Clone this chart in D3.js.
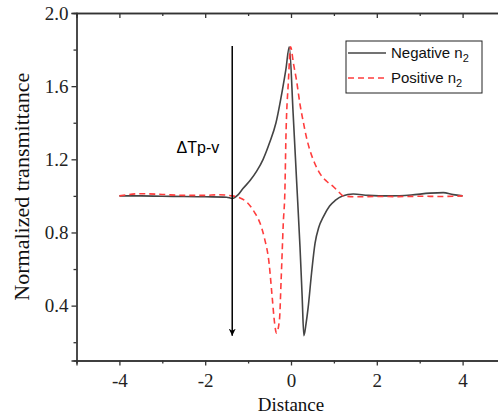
<!DOCTYPE html>
<html>
<head>
<meta charset="utf-8">
<script src="https://cdn.jsdelivr.net/npm/d3@7"></script>
<style>
  body { margin: 0; background: #fff; }
  svg { display: block; }
</style>
</head>
<body>
<div id="chart"></div>
<script>
// data
var negX = [-4.0, -3.5, -3.0, -2.5, -2.0, -1.5, -1.37, -1.23, -1.12, -0.95, -0.80, -0.65, -0.50, -0.35, -0.20, -0.12, -0.04,
  0.05, 0.13, 0.21, 0.26, 0.30, 0.35, 0.40, 0.48, 0.56, 0.65, 0.75, 0.90, 1.03, 1.20, 1.45, 1.8, 2.3, 2.8, 3.24, 3.55, 3.78, 4.0];
var negY = [1.0, 1.0, 0.998, 0.997, 0.995, 0.993, 0.986, 1.007, 1.04, 1.085, 1.135, 1.20, 1.29, 1.40, 1.58, 1.69, 1.815,
  1.45, 1.085, 0.72, 0.45, 0.236, 0.30, 0.39, 0.58, 0.74, 0.83, 0.884, 0.945, 0.975, 1.0, 1.01, 1.003, 1.0, 1.005, 1.015, 1.018, 1.007, 1.0];

var posX = [-4.0, -3.5, -3.0, -2.5, -2.0, -1.7, -1.37, -1.2, -1.03, -0.85, -0.72, -0.62, -0.51, -0.44, -0.38, -0.34,
  -0.27, -0.23, -0.18, -0.14, -0.12, -0.06, -0.01, 0.06, 0.13, 0.21, 0.29, 0.36, 0.44, 0.55, 0.68, 0.83, 0.99, 1.1, 1.22,
  1.5, 2.0, 2.5, 3.0, 3.5, 4.0];
var posY = [1.0, 1.012, 1.008, 1.003, 1.003, 1.006, 1.0, 0.99, 0.966, 0.91, 0.85, 0.77, 0.63, 0.45, 0.30, 0.25,
  0.32, 0.54, 0.85, 1.05, 1.30, 1.63, 1.815, 1.72, 1.63, 1.50, 1.40, 1.32, 1.25, 1.18, 1.12, 1.08, 1.05, 1.025, 1.0,
  0.995, 0.997, 0.996, 0.998, 0.997, 1.0];

var xMajor = [-4, -2, 0, 2, 4];
var xMinor = [-5, -3, -1, 1, 3, 5];
var yMajor = [0.4, 0.8, 1.2, 1.6, 2.0];
var yMinor = [0.2, 0.6, 1.0, 1.4, 1.8];

var seriesNames = ["Negative n", "Positive n"];
var arrowX = -1.37, arrowTop = 1.82, arrowBottom = 0.236;
var noteText = "\u0394Tp-v";

var svgWidth = 498;
var svgHeight = 418;

var svg = d3.select("#chart")
  .append("svg")
  .attr("width", svgWidth)
  .attr("height", svgHeight);

var xScale = d3.scaleLinear().domain([-5, 5]).range([76.5, 505.5]);
var yScale = d3.scaleLinear().domain([0.1, 2.0]).range([360.5, 13]);

var axisColor = "#333";

// curves
var line = d3.line()
  .x(d => xScale(d[0]))
  .y(d => yScale(d[1]))
  .curve(d3.curveMonotoneX);

svg.append("path")
  .datum(negX.map((v, i) => [v, negY[i]]))
  .attr("d", line)
  .attr("fill", "none")
  .attr("stroke", "#444")
  .attr("stroke-width", 1.6);

svg.append("path")
  .datum(posX.map((v, i) => [v, posY[i]]))
  .attr("d", line)
  .attr("fill", "none")
  .attr("stroke", "#ff3d3d")
  .attr("stroke-width", 1.6)
  .attr("stroke-dasharray", "6,4");

// arrow
svg.append("defs").append("marker")
  .attr("id", "head")
  .attr("viewBox", "0 0 10 10")
  .attr("refX", 10).attr("refY", 5)
  .attr("markerWidth", 7).attr("markerHeight", 7)
  .attr("markerUnits", "userSpaceOnUse")
  .attr("orient", "auto")
  .append("path")
  .attr("d", "M0,0 L10,5 L0,10 L3,5 Z")
  .attr("fill", "#000");

svg.append("line")
  .attr("x1", xScale(arrowX)).attr("x2", xScale(arrowX))
  .attr("y1", yScale(arrowTop)).attr("y2", yScale(arrowBottom))
  .attr("stroke", "#000")
  .attr("stroke-width", 1.5)
  .attr("marker-end", "url(#head)");

svg.append("text")
  .attr("x", xScale(arrowX) - 13)
  .attr("y", yScale(1.235))
  .attr("text-anchor", "end")
  .attr("font-family", "Liberation Sans, Arial, sans-serif")
  .attr("font-size", "16px")
  .text(noteText);

// axes
var serif = "Liberation Serif, Times New Roman, serif";

var xAxis = svg.append("g")
  .attr("transform", `translate(0, ${yScale(0.1)})`)
  .call(d3.axisBottom(xScale).tickValues(xMajor).tickSize(5).tickFormat(d => String(d)));
svg.append("g")
  .attr("transform", `translate(0, ${yScale(0.1)})`)
  .call(d3.axisBottom(xScale).tickValues(xMinor).tickSize(3).tickFormat(""));

var yAxis = svg.append("g")
  .attr("transform", `translate(${xScale(-5)}, 0)`)
  .call(d3.axisLeft(yScale).tickValues(yMajor).tickSize(5).tickFormat(d3.format(".1f")));
svg.append("g")
  .attr("transform", `translate(${xScale(-5)}, 0)`)
  .call(d3.axisLeft(yScale).tickValues(yMinor).tickSize(3).tickFormat(""));

// top frame with inward ticks
svg.append("g")
  .attr("transform", `translate(0, ${yScale(2.0)})`)
  .call(d3.axisTop(xScale).tickValues(xMajor).tickSize(-5).tickFormat(""));
svg.append("g")
  .attr("transform", `translate(0, ${yScale(2.0)})`)
  .call(d3.axisTop(xScale).tickValues(xMinor).tickSize(-3).tickFormat(""));

svg.selectAll(".domain, .tick line")
  .attr("stroke", axisColor)
  .attr("stroke-width", 1.3);

svg.selectAll(".tick text")
  .attr("font-family", serif)
  .attr("font-size", "19px")
  .attr("fill", "#222");

xAxis.selectAll(".tick text").attr("dy", "0.95em");

// axis titles
svg.append("text")
  .attr("x", xScale(0))
  .attr("y", 411)
  .attr("text-anchor", "middle")
  .attr("font-family", serif)
  .attr("font-size", "19px")
  .attr("fill", "#111")
  .text("Distance");

svg.append("text")
  .attr("transform", `translate(29, ${yScale(1.05)}) rotate(-90)`)
  .attr("text-anchor", "middle")
  .attr("font-family", serif)
  .attr("font-size", "22px")
  .attr("fill", "#111")
  .text("Normalized transmittance");

// legend
var legend = svg.append("g");
legend.append("rect")
  .attr("x", 346).attr("y", 41)
  .attr("width", 136).attr("height", 52)
  .attr("fill", "#fff")
  .attr("stroke", "#222")
  .attr("stroke-width", 1);

var legendStyles = [
  { color: "#444", dash: null },
  { color: "#ff3d3d", dash: "6,4" }
];

seriesNames.forEach(function(name, i) {
  var yy = 53 + i * 25;
  legend.append("line")
    .attr("x1", 348).attr("x2", 386)
    .attr("y1", yy).attr("y2", yy)
    .attr("stroke", legendStyles[i].color)
    .attr("stroke-width", 1.6)
    .attr("stroke-dasharray", legendStyles[i].dash);
  var t = legend.append("text")
    .attr("x", 391)
    .attr("y", yy + 5)
    .attr("font-family", "Liberation Sans, Arial, sans-serif")
    .attr("font-size", "15px")
    .attr("fill", "#111")
    .text(name);
  t.append("tspan")
    .attr("dy", "0.35em")
    .attr("font-size", "11px")
    .text("2");
});
</script>
</body>
</html>
